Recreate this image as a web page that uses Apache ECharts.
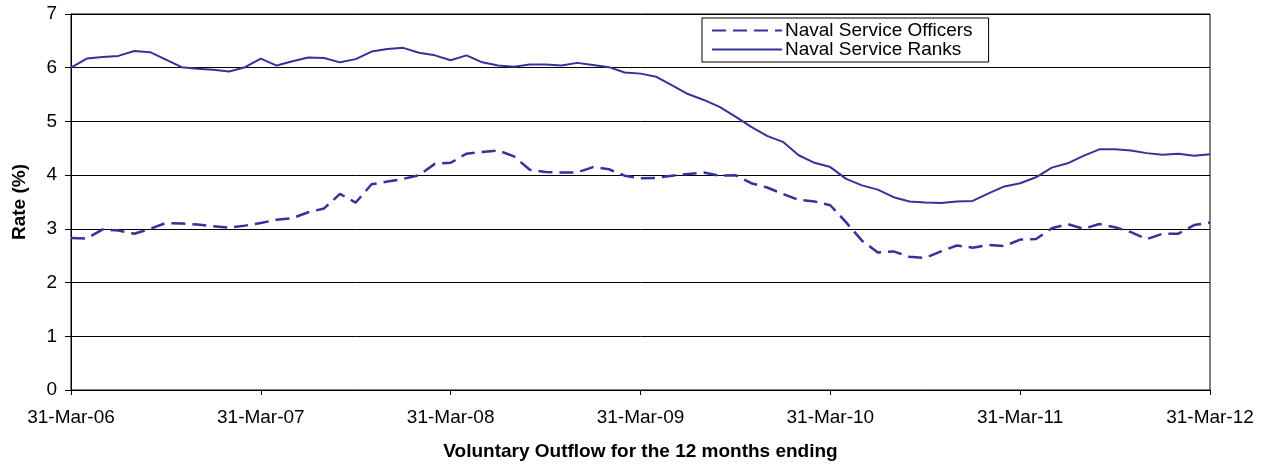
<!DOCTYPE html>
<html>
<head>
<meta charset="utf-8">
<script src="https://cdn.jsdelivr.net/npm/echarts@6/dist/echarts.min.js"></script>
<style>
html,body{margin:0;padding:0;background:#fff;}
#chart{width:1267px;height:466px;}
</style>
</head>
<body>
<div id="chart"></div>
<script>
// Month-end category labels, 31-Mar-06 .. 31-Mar-12
const monthEnds = ['31-Mar','30-Apr','31-May','30-Jun','31-Jul','31-Aug','30-Sep','31-Oct','30-Nov','31-Dec','31-Jan','28-Feb'];
const categories = [];
for (let y = 6; y <= 12; y++) {
  for (let m = 0; m < 12; m++) {
    if (y === 12 && m > 0) break;
    const yy = (m >= 10 ? y + 1 : y);
    let lab = monthEnds[m];
    if (m === 11 && (yy === 8 || yy === 12)) lab = '29-Feb';
    categories.push(lab + '-' + String(yy).padStart(2, '0'));
  }
}

const officers = [
  2.83,2.82,2.99,2.97,2.91,3.00,3.11,3.10,3.08,3.05,3.02,3.06,
  3.11,3.17,3.20,3.31,3.38,3.65,3.49,3.83,3.88,3.93,4.00,4.21,
  4.23,4.40,4.43,4.46,4.35,4.10,4.06,4.05,4.05,4.15,4.11,3.99,
  3.94,3.95,3.99,4.02,4.05,3.99,4.00,3.85,3.77,3.65,3.54,3.51,
  3.44,3.12,2.78,2.56,2.58,2.48,2.46,2.58,2.69,2.65,2.70,2.68,
  2.80,2.81,3.01,3.09,3.00,3.09,3.03,2.94,2.81,2.91,2.91,3.07,3.12
];
const ranks = [
  6.00,6.17,6.20,6.22,6.31,6.29,6.15,6.01,5.98,5.96,5.93,6.01,
  6.17,6.04,6.12,6.19,6.18,6.10,6.16,6.30,6.35,6.37,6.28,6.23,
  6.14,6.23,6.10,6.04,6.02,6.06,6.06,6.04,6.09,6.05,6.01,5.91,
  5.89,5.83,5.67,5.51,5.40,5.27,5.09,4.90,4.73,4.62,4.37,4.23,
  4.15,3.93,3.81,3.73,3.59,3.51,3.49,3.48,3.51,3.52,3.66,3.79,
  3.85,3.96,4.14,4.22,4.36,4.48,4.48,4.46,4.41,4.38,4.40,4.36,4.39
];
const seriesNames = ['Naval Service Officers', 'Naval Service Ranks'];
const yTicks = [0, 1, 2, 3, 4, 5, 6, 7];

const FONT = '"Liberation Sans", Arial, sans-serif';
const chart = echarts.init(document.getElementById('chart'), null, {renderer: 'canvas'});
chart.setOption({
  animation: false,
  backgroundColor: '#fff',
  textStyle: {fontFamily: FONT},
  grid: {left: 71, right: 57, top: 14, bottom: 74, show: true, borderColor: '#000', borderWidth: 1, backgroundColor: 'transparent'},
  legend: {
    orient: 'vertical',
    left: 702, top: 18,
    padding: [3, 16, 3, 9],
    itemGap: 0,
    itemWidth: 70, itemHeight: 18,
    borderColor: '#000', borderWidth: 1,
    backgroundColor: '#fff',
    itemStyle: {opacity: 0},
    textStyle: {fontFamily: FONT, fontSize: 19, color: '#000', padding: [0, 0, 0, -2]},
    data: seriesNames
  },
  xAxis: {
    type: 'category',
    data: categories,
    boundaryGap: false,
    name: 'Voluntary Outflow for the 12 months ending',
    nameLocation: 'middle',
    nameGap: 52,
    nameTextStyle: {fontFamily: FONT, fontSize: 19, fontWeight: 'bold', color: '#000'},
    axisLine: {lineStyle: {color: '#000', width: 1}},
    axisTick: {show: true, interval: 11, length: 5, lineStyle: {color: '#000'}},
    axisLabel: {interval: 11, margin: 18, fontSize: 19, color: '#000', fontFamily: FONT},
    splitLine: {show: false}
  },
  yAxis: {
    type: 'value',
    min: yTicks[0], max: yTicks[yTicks.length - 1], interval: 1,
    name: 'Rate (%)',
    nameLocation: 'middle',
    nameGap: 42,
    nameRotate: 90,
    nameTextStyle: {fontFamily: FONT, fontSize: 19, fontWeight: 'bold', color: '#000'},
    axisLine: {show: true, lineStyle: {color: '#000', width: 1}},
    axisTick: {show: true, length: 6, lineStyle: {color: '#000'}},
    axisLabel: {margin: 14, fontSize: 19, color: '#000', fontFamily: FONT},
    splitLine: {show: true, lineStyle: {color: '#000', width: 1}}
  },
  series: [
    {
      name: seriesNames[0], type: 'line', data: officers,
      showSymbol: false, symbol: 'none',
      lineStyle: {color: '#333399', width: 2.5, type: [14, 7]},
      itemStyle: {color: '#333399'}
    },
    {
      name: seriesNames[1], type: 'line', data: ranks,
      showSymbol: false, symbol: 'none',
      lineStyle: {color: '#333399', width: 2},
      itemStyle: {color: '#333399'}
    }
  ]
});
</script>
</body>
</html>
